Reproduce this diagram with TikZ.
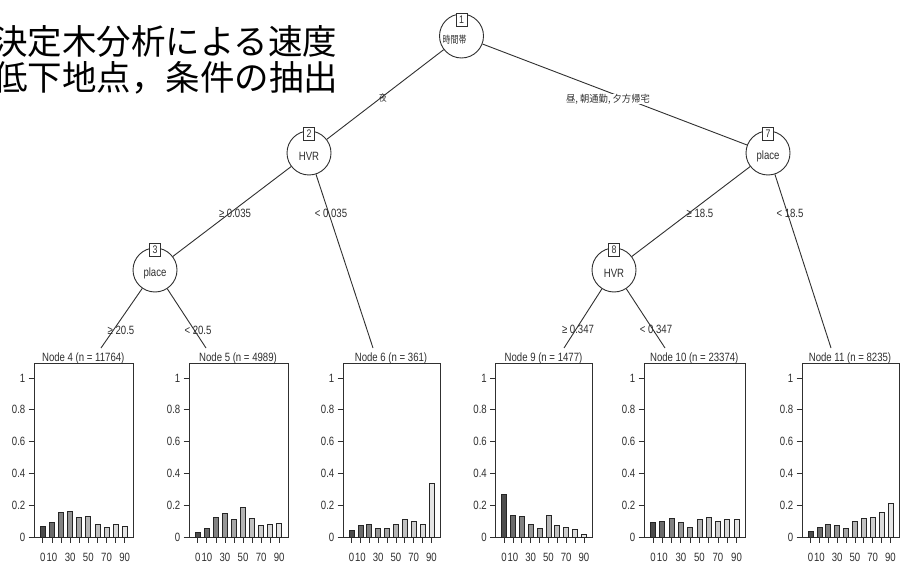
\documentclass[tikz,border=0pt]{standalone}
\usepackage{fontspec}
\setmainfont{Liberation Sans}[FakeStretch=0.8]
\newfontfamily\jptitle{Noto Sans CJK JP}
\newfontfamily\jpnode{Noto Sans CJK JP}[FakeStretch=0.8]
\newfontfamily\jpedge{Noto Sans CJK JP}[FakeStretch=0.95]
\usetikzlibrary{calc}
\definecolor{ink}{HTML}{303030}
\definecolor{g0}{gray}{0.30}
\definecolor{g1}{gray}{0.42}
\definecolor{g2}{gray}{0.51}
\definecolor{g3}{gray}{0.59}
\definecolor{g4}{gray}{0.65}
\definecolor{g5}{gray}{0.71}
\definecolor{g6}{gray}{0.76}
\definecolor{g7}{gray}{0.81}
\definecolor{g8}{gray}{0.86}
\definecolor{g9}{gray}{0.90}
\tikzset{
  innernode/.style={circle, draw=ink, fill=white, minimum size=44pt, inner sep=0pt, line width=0.9pt},
  nodetext/.style={inner sep=0pt, text=ink, font=\fontsize{12}{12}\selectfont},
  idbox/.style={rectangle, draw=ink, fill=white, minimum width=11pt, minimum height=13pt, inner sep=0pt, text=ink, line width=0.9pt, font=\fontsize{11}{11}\selectfont},
  edge/.style={draw=ink, line width=0.9pt},
  elabel/.style={inner sep=0pt, text=ink, font=\fontsize{12}{12}\selectfont},
  panelframe/.style={rectangle, draw=ink, line width=1pt, inner sep=0pt, anchor=north west, minimum height=174pt},
  bar/.style={draw=black!85, line width=0.8pt},
  axisline/.style={draw=ink, line width=0.8pt},
  ticklabel/.style={inner sep=0pt, text=ink, font=\fontsize{12}{12}\selectfont},
  paneltitle/.style={inner sep=0pt, text=ink, anchor=base, font=\fontsize{12}{12}\selectfont},
  titletext/.style={inner sep=0pt, anchor=base west, text=black, font=\jptitle\fontsize{34.5}{34.5}\selectfont}
}
\newcommand\leafpanel[5]{%
  \pgfmathsetmacro\pL{#2}%
  \pgfmathsetmacro\pW{#3}%
  \node[panelframe, minimum width=#3pt] (#1) at (\pL,363) {};
  \node[paneltitle] (#1title) at (\pL+\pW/2,361) {#4};
  \foreach \h [count=\k from 0] in {#5} {
    \pgfmathsetmacro\cx{\pL+\pW*(0.094+0.0914*\k)}
    \draw[bar, fill=g\k] (\cx-2.5,537) rectangle (\cx+2.5,{537-159*\h});
    \draw[axisline] (\cx,537) -- (\cx,543);
  }
  \foreach \k/\t in {0/0,1/10,3/30,5/50,7/70,9/90} {
    \pgfmathsetmacro\cx{\pL+\pW*(0.094+0.0914*\k)}
    \node[ticklabel] at (\cx,557) {\t};
  }
  \foreach \v/\t in {0/0,0.2/0.2,0.4/0.4,0.6/0.6,0.8/0.8,1/1} {
    \draw[axisline] (\pL-5,{537-159*\v}) -- (\pL,{537-159*\v});
    \node[ticklabel, anchor=east] at (\pL-8,{537-159*\v}) {\t};
  }
}
\begin{document}
\begin{tikzpicture}[x=1pt,y=-1pt]
\useasboundingbox (0,0) rectangle (912,569);
\fill[white] (0,0) rectangle (912,569);

% title
\node[titletext] (title1) at (-7,55) {決定木分析による速度};
\node[titletext] (title2) at (-7,91) {低下地点，条件の抽出};

% inner nodes
\node[innernode] (n1) at (461.5,36) {};
\node[innernode] (n2) at (309,153) {};
\node[innernode] (n7) at (768,153) {};
\node[innernode] (n3) at (155,270) {};
\node[innernode] (n8) at (614,270) {};

% leaf panels
\leafpanel{t4}{33.5}{99.5}{Node 4 (n = 11764)}{0.066,0.091,0.154,0.161,0.123,0.129,0.078,0.059,0.078,0.066}
\leafpanel{t5}{188.5}{99}{Node 5 (n = 4989)}{0.027,0.053,0.123,0.148,0.108,0.186,0.116,0.072,0.078,0.085}
\leafpanel{t6}{342.5}{97}{Node 6 (n = 361)}{0.044,0.070,0.078,0.053,0.053,0.078,0.108,0.101,0.078,0.338}
\leafpanel{t9}{495}{97}{Node 9 (n = 1477)}{0.271,0.137,0.127,0.078,0.053,0.135,0.070,0.059,0.047,0.017}
\leafpanel{t10}{643.5}{101.5}{Node 10 (n = 23374)}{0.091,0.095,0.114,0.091,0.059,0.108,0.123,0.101,0.108,0.108}
\leafpanel{t11}{801.5}{97}{Node 11 (n = 8235)}{0.038,0.059,0.078,0.070,0.053,0.095,0.116,0.123,0.155,0.213}

% edge end points at the panel titles
\coordinate (tip4) at (101,348);
\coordinate (tip5) at (206,348);
\coordinate (tip6) at (373,348);
\coordinate (tip9) at (564,348);
\coordinate (tip10) at (665,348);
\coordinate (tip11) at (831,348);

% edges
\draw[edge] (n1) -- (n2);
\draw[edge] (n1) -- (n7);
\draw[edge] (n2) -- (n3);
\draw[edge] (n2) -- (tip6);
\draw[edge] (n3) -- (tip4);
\draw[edge] (n3) -- (tip5);
\draw[edge] (n7) -- (n8);
\draw[edge] (n7) -- (tip11);
\draw[edge] (n8) -- (tip9);
\draw[edge] (n8) -- (tip10);

% node id boxes and variable names
\node[idbox] (b1) at (461.5,20) {1};
\node[idbox] (b2) at (309,134) {2};
\node[idbox] (b7) at (768,134) {7};
\node[idbox] (b3) at (155,250) {3};
\node[idbox] (b8) at (614,250) {8};
\node[nodetext, font=\jpnode\fontsize{10}{10}\selectfont] (n1t) at (454.5,40) {時間帯};
\node[nodetext] (n2t) at (309,156) {HVR};
\node[nodetext] (n7t) at (768,156) {place};
\node[nodetext] (n3t) at (155,273) {place};
\node[nodetext] (n8t) at (614,273) {HVR};

% edge labels
\node[elabel, font=\jpnode\fontsize{9.5}{9.5}\selectfont] (e12) at (383,98) {夜};
\node[elabel, fill=white, font=\jpedge\fontsize{9.8}{9.8}\selectfont] (e17) at (608,99) {昼, 朝通勤, 夕方帰宅};
\node[elabel] (e23) at (235,213) {≥ 0.035};
\node[elabel] (e26) at (331,213) {< 0.035};
\node[elabel] (e78) at (700,213) {≥ 18.5};
\node[elabel] (e711) at (790,213) {< 18.5};
\node[elabel] (e34) at (121,330) {≥ 20.5};
\node[elabel] (e35) at (198,330) {< 20.5};
\node[elabel] (e89) at (578,329) {≥ 0.347};
\node[elabel] (e810) at (656,329) {< 0.347};
\end{tikzpicture}
\end{document}
